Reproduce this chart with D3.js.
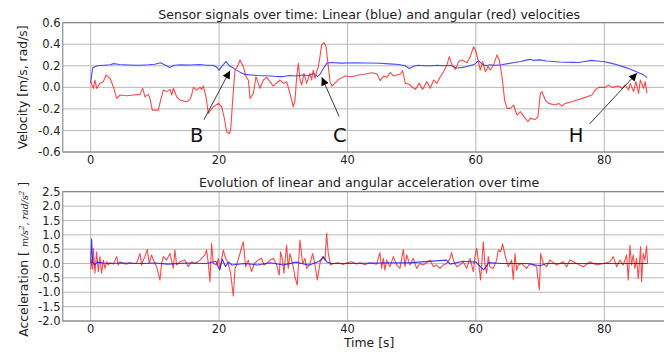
<!DOCTYPE html>
<html>
<head>
<meta charset="utf-8">
<script src="https://cdn.jsdelivr.net/npm/d3@7"></script>
<style>
  html, body { margin: 0; padding: 0; background: #fff; }
  svg { display: block; font-family: "DejaVu Sans", sans-serif; }
</style>
</head>
<body>
<svg id="chart" width="664" height="354"></svg>
<script>
// ---------------- DATA ----------------
const xTicks = [0, 20, 40, 60, 80];
const velTicks = [-0.6, -0.4, -0.2, 0.0, 0.2, 0.4, 0.6];
const accTicks = [-2.0, -1.5, -1.0, -0.5, 0.0, 0.5, 1.0, 1.5, 2.0, 2.5];

const topTitle = "Sensor signals over time: Linear (blue) and angular (red) velocities";
const bottomTitle = "Evolution of linear and angular acceleration over time";
const velLabel = "Velocity [m/s, rad/s]";
const xLabel = "Time [s]";

// linear velocity (blue)
const linVelT = [0,0.3,1,2,3,3.6,4.5,6,7.5,9,10,10.9,11.5,12.3,13,14,15.5,17,18,19,19.6,20,20.5,21.1,21.6,22.1,22.7,23.3,24,25,26,27,28,29,30,31,32,33,34,34.7,35.3,35.7,36.2,36.8,37.5,39,41,43,45,46.5,48,49,49.6,50.3,51,52,53,54,55,56,57,58,59,59.8,60.4,61,61.6,62.2,63,64,65,66,67,68,68.5,69,70,71,72,73,74,75,76,77,78,79,80,81,82,83,84,85,86,86.7];
const linVelV = [0.04,0.18,0.20,0.205,0.21,0.22,0.212,0.208,0.205,0.21,0.215,0.228,0.21,0.185,0.205,0.21,0.208,0.212,0.205,0.205,0.19,0.16,0.2,0.24,0.2,0.185,0.16,0.14,0.12,0.115,0.11,0.108,0.105,0.1,0.1,0.11,0.105,0.115,0.11,0.13,0.1,0.12,0.17,0.225,0.23,0.225,0.228,0.226,0.224,0.218,0.212,0.2,0.175,0.195,0.205,0.2,0.2,0.205,0.2,0.205,0.18,0.185,0.2,0.215,0.245,0.215,0.2,0.21,0.205,0.21,0.22,0.23,0.24,0.255,0.26,0.25,0.255,0.245,0.24,0.235,0.233,0.232,0.23,0.24,0.25,0.245,0.238,0.225,0.21,0.19,0.17,0.145,0.12,0.09];

// angular velocity (red)
const angVelT = [0,0.42,0.67,0.93,1.45,1.97,2.39,2.75,3.01,3.53,4.05,4.57,5.6,6.65,7.68,8.1,8.46,8.98,9.24,9.6,10.54,10.9,11.32,11.84,12.36,12.62,12.88,13.4,13.91,14.95,15.47,15.73,15.99,16.51,17.03,17.29,17.55,17.96,18.33,19.11,19.89,20.4,20.77,21.18,21.6,21.81,22.12,22.48,22.85,23.26,23.52,23.78,24.19,24.56,24.82,25.34,25.75,26.12,26.38,26.9,27.41,27.93,28.45,29.49,30.01,30.53,31.31,31.57,31.83,32.09,32.35,32.61,32.87,33.23,33.64,34.16,34.42,34.68,34.94,35.2,35.46,35.72,35.98,36.34,36.66,37.02,37.28,37.59,38.62,39.66,40.7,41.74,42.78,43.82,44.6,45.11,45.63,46.15,46.67,47.19,47.71,48.23,48.59,49.01,49.53,50.05,50.57,51.19,51.71,52.38,52.9,53.42,53.94,54.46,54.98,55.5,55.86,56.28,56.8,57.32,57.83,58.61,59.13,59.65,60.02,60.33,60.69,61.06,61.47,61.89,62.25,62.77,63.29,63.65,64.07,64.48,64.85,65.36,65.88,66.4,66.92,67.7,68.11,68.48,69.26,69.67,70.04,70.3,70.81,71.33,72.37,72.89,73.41,73.93,74.97,76.0,77.04,78.08,78.6,79.12,80.16,80.68,81.2,82.23,82.75,83.27,83.79,84.05,84.57,84.93,85.35,85.61,86.12,86.38,86.64];
const angVelV = [0.053,-0.01,0.068,-0.01,0.037,0.053,0.115,0.093,0.084,0.006,-0.102,-0.071,-0.078,-0.071,-0.065,-0.009,-0.087,-0.065,-0.102,-0.211,-0.211,-0.118,-0.025,-0.04,-0.019,-0.071,-0.009,-0.087,-0.118,-0.133,-0.112,-0.071,0,-0.025,0,-0.019,0.012,-0.087,-0.242,-0.18,-0.149,-0.18,-0.273,-0.412,-0.428,-0.397,-0.118,0.161,0.192,0.254,0.223,0.192,0.099,0.068,-0.102,-0.056,0.099,0.037,-0.009,0.068,0.093,0.053,0.012,0.068,0.037,0.053,-0.118,-0.18,-0.118,0.099,0.223,0.068,0.022,0.13,0.037,0.13,0.068,0.161,0.084,0.146,0.192,0.285,0.394,0.416,0.378,0.192,0.053,0.012,0.074,0.105,0.099,0.115,0.124,0.136,0.124,0.062,0.105,0.093,0.136,0.105,0.115,0.124,0.155,0.037,0.031,0.006,-0.019,0.037,-0.019,0.053,-0.009,0.068,0.037,0.099,0.146,0.208,0.285,0.208,0.167,0.239,0.254,0.229,0.285,0.378,0.332,0.254,0.161,0.239,0.146,0.192,0.161,0.208,0.301,0.254,0.099,-0.118,-0.195,-0.195,-0.164,-0.257,-0.226,-0.288,-0.319,-0.288,-0.298,-0.273,-0.056,-0.04,-0.118,-0.149,-0.164,-0.149,-0.174,-0.149,-0.133,-0.112,-0.093,-0.071,-0.025,0,0,0.022,0,0.012,-0.009,0.022,-0.025,0.037,-0.04,0.053,-0.056,0.068,-0.009,0.053,-0.056];

// linear acceleration (blue)
const linAccT = [0,0.15,0.3,0.6,1,2,3,5,8,10,12,15,18,19.5,20.1,20.5,21,21.5,22,24,26,28,30,32,34,35.6,36.3,36.8,37.5,40,45,50,55.4,56,58,60,61.2,62,64,68,70,71,80,86.7];
const linAccV = [0,0.85,0.05,-0.05,0.05,0.02,0,0.02,0,0.02,-0.02,0.02,0,0.08,-0.23,0.15,-0.1,0.05,-0.05,0,-0.05,0.03,-0.05,0.05,-0.06,0.08,0.23,0.05,0,0,0.02,0.03,0.12,-0.02,0.08,0.05,-0.22,0.03,0,0,-0.08,0,0,0];

// angular acceleration (red)
const angAccT = [0,0.15,0.31,0.41,0.67,0.93,1.19,1.45,1.71,1.97,2.23,2.49,2.74,3.0,3.53,4.04,4.3,4.56,5.08,5.6,6.12,6.64,7.16,7.42,7.68,7.94,8.2,8.46,8.82,9.13,9.5,9.76,10.27,10.79,11.05,11.31,11.83,12.35,12.87,13.13,13.39,13.91,14.69,15.2,15.72,16.24,17.02,17.8,18.06,18.32,18.58,18.84,19.1,19.62,19.88,20.14,20.66,21.02,21.44,21.8,22.22,22.48,22.74,23.26,23.77,24.14,24.55,25.07,25.49,26.11,26.63,26.99,27.41,27.93,28.45,28.97,29.38,29.59,29.9,30.11,30.52,30.78,31.04,31.56,31.82,32.18,32.6,33.02,33.38,33.64,34.16,34.57,34.94,35.3,35.71,36.13,36.49,36.75,37.01,37.38,37.8,38.58,39.35,39.87,40.65,41.43,41.95,42.7,43.5,44.54,45.06,45.32,45.58,45.84,46.1,46.62,47.14,47.66,48.18,48.7,48.96,49.22,49.74,50.25,50.77,51.29,51.81,52.85,53.37,53.89,54.41,54.93,55.45,55.97,56.23,56.49,57.0,57.52,58.04,58.56,59.08,59.6,59.86,60.12,60.38,60.74,61.16,61.42,61.68,61.93,62.19,62.71,63.23,63.49,63.86,64.17,64.53,65.05,65.57,65.83,66.09,66.35,66.61,67.13,67.91,68.43,68.94,69.46,69.88,70.09,70.5,71.02,71.54,72.58,73.62,74.14,74.66,75.7,76.73,77.77,78.81,79.85,80.89,81.41,81.92,82.44,82.96,83.48,83.74,84.0,84.25,84.51,84.77,85.03,85.29,85.66,85.81,86.07,86.33,86.59,86.75];
const angAccV = [-0.2,0.12,-0.2,0.53,-0.34,0.41,-0.28,0.24,-0.34,0.12,-0.17,0.06,-0.05,0.03,-0.02,0.24,-0.05,0.06,0,-0.02,0.03,0,0,0.18,0.35,-0.05,0.12,0.24,0.49,0,0.3,0.12,-0.11,-0.57,0,0.24,0.12,0.35,-0.17,0.47,-0.05,0.06,0.12,-0.11,0.06,0,0.12,0.3,0.47,0,-0.63,0.7,0,-0.05,0.18,-0.17,0.47,0.18,0,-0.34,-1.13,-0.17,-0.05,0.35,0.76,-0.11,0.12,-0.28,0,0.12,0.18,-0.05,0,0.12,0.18,-0.05,-0.4,0.41,0.12,-0.34,0.64,-0.17,0.35,-0.11,-0.46,-0.75,0.82,0,0.18,-0.17,0,0.35,-0.05,-0.57,0,0.24,0.12,1.05,0.35,-0.05,0,0.03,-0.03,0.03,0.06,-0.02,0.03,-0.04,0.03,-0.02,0.38,-0.17,0.18,-0.23,0.12,-0.11,0.24,-0.05,-0.17,0.49,-0.11,0.3,-0.05,0.18,-0.17,0,-0.05,0.12,-0.11,-0.05,-0.17,-0.05,0,0.18,0.38,0.12,-0.11,-0.05,0.06,-0.17,0.18,-0.28,0.24,0.53,0.12,-0.57,0.76,-0.05,-0.34,0.24,-0.11,-0.17,0.12,0.47,0.41,0.68,0.3,-0.11,0.12,-0.55,0.35,-0.23,-0.05,0,-0.17,0,-0.05,-0.11,-0.92,0.35,0,-0.11,0.12,-0.05,0.06,-0.11,0.12,0,-0.11,0.06,-0.05,0,0.06,0.24,-0.11,0.12,-0.05,0.3,-0.57,0.64,-0.05,0.3,-0.17,0.18,-0.52,0.58,-0.63,0.35,0.12,0.61,0];

// annotations (top chart, data coordinates)
const annLabels = ["B", "C", "H"];
const annTipT = [21.7, 36.0, 85.1];
const annTipV = [0.155, 0.093, 0.133];
const annFromT = [17.65, 38.7, 77.7];
const annFromV = [-0.30, -0.27, -0.34];
const annTextT = [16.5, 38.8, 75.6];
const annTextV = [-0.44, -0.44, -0.44];

// ---------------- DRAWING ----------------
const svg = d3.select("#chart");
svg.append("rect").attr("width", 664).attr("height", 354).attr("fill", "#fff");

const xDomain = [-4.34, 91.08];
const x = d3.scaleLinear().domain(xDomain).range([62.8, 675.4]);
const fmt = d => d3.format(".1f")(d).replace("\u2212", "-");

const panels = [
  { domain: [-0.6, 0.6], range: [152, 22.7], ticks: velTicks,
    title: topTitle, titleY: 18.5, series: [
      { t: linVelT, v: linVelV, color: "#2a2aff", op: 0.85 },
      { t: angVelT, v: angVelV, color: "#ff1a1a", op: 0.8 } ] },
  { domain: [-2.0, 2.5], range: [321, 191.7], ticks: accTicks,
    title: bottomTitle, titleY: 187, series: [
      { t: angAccT, v: angAccV, color: "#ff1a1a", op: 0.8 },
      { t: linAccT, v: linAccV, color: "#1a1aff", op: 0.85 } ] }
];

const defs = svg.append("defs");
defs.append("marker").attr("id", "ahead")
  .attr("viewBox", "0 0 10 10").attr("refX", 10).attr("refY", 5)
  .attr("markerWidth", 10).attr("markerHeight", 8).attr("markerUnits", "userSpaceOnUse")
  .attr("orient", "auto")
  .append("path").attr("d", "M0,0 L10,5 L0,10 Z").attr("fill", "#000");

const scales = [];
panels.forEach((p, i) => {
  const y = d3.scaleLinear().domain(p.domain).range(p.range);
  scales.push(y);
  const x0 = x.range()[0], x1 = x.range()[1];
  const yTop = p.range[1], yBot = p.range[0];
  const g = svg.append("g");

  defs.append("clipPath").attr("id", "clip" + i)
    .append("rect").attr("x", x0).attr("y", yTop).attr("width", x1 - x0).attr("height", yBot - yTop);

  // grid
  g.selectAll(".hg").data(p.ticks).enter().append("line")
    .attr("x1", x0).attr("x2", x1).attr("y1", d => y(d)).attr("y2", d => y(d))
    .attr("stroke", "#b8b8b8").attr("stroke-width", 1);
  g.selectAll(".vg").data(xTicks).enter().append("line")
    .attr("x1", d => x(d)).attr("x2", d => x(d)).attr("y1", yTop).attr("y2", yBot)
    .attr("stroke", "#b8b8b8").attr("stroke-width", 1);

  // series
  const lg = g.append("g").attr("clip-path", `url(#clip${i})`);
  p.series.forEach(s => {
    const pts = s.t.map((t, k) => [t, s.v[k]]);
    lg.append("path").datum(pts)
      .attr("d", d3.line().x(d => x(d[0])).y(d => y(d[1])))
      .attr("fill", "none").attr("stroke", s.color).attr("stroke-opacity", s.op)
      .attr("stroke-width", 1.1).attr("stroke-linejoin", "round");
  });

  // frame
  g.append("rect").attr("x", x0).attr("y", yTop).attr("width", x1 - x0).attr("height", yBot - yTop)
    .attr("fill", "none").attr("stroke", "#7a7a7a").attr("stroke-width", 1);

  // y tick labels
  g.selectAll(".yl").data(p.ticks).enter().append("text")
    .attr("x", 60.5).attr("y", d => y(d)).attr("dy", "0.36em")
    .attr("text-anchor", "end").attr("font-size", 11.5).attr("fill", "#222")
    .text(d => fmt(d));
  // x tick labels
  g.selectAll(".xl").data(xTicks).enter().append("text")
    .attr("x", d => x(d)).attr("y", yBot + 11.5)
    .attr("text-anchor", "middle").attr("font-size", 11.5).attr("fill", "#222")
    .text(d => d);

  // title
  g.append("text").attr("x", (x0 + x1) / 2).attr("y", p.titleY)
    .attr("text-anchor", "middle").attr("font-size", 12.6).attr("fill", "#222").text(p.title);
});

// y axis labels
const yTopScale = scales[0], yBotScale = scales[1];
svg.append("text")
  .attr("transform", `translate(27,${(yTopScale.range()[0] + yTopScale.range()[1]) / 2}) rotate(-90)`)
  .attr("text-anchor", "middle").attr("font-size", 12.4).attr("fill", "#222").text(velLabel);

const accLab = svg.append("text")
  .attr("transform", `translate(28,${(yBotScale.range()[0] + yBotScale.range()[1]) / 2 + 3}) rotate(-90)`)
  .attr("text-anchor", "middle").attr("font-size", 12.4).attr("fill", "#222");
accLab.append("tspan").text("Acceleration [ ");
const mathFont = "'DejaVu Serif', serif";
accLab.append("tspan").attr("font-family", mathFont).attr("font-style", "italic").attr("font-size", 9.5).text("m/s");
accLab.append("tspan").attr("font-family", mathFont).attr("font-style", "italic").attr("font-size", 7).attr("dy", -4).text("2");
accLab.append("tspan").attr("font-family", mathFont).attr("font-style", "italic").attr("font-size", 9.5).attr("dy", 4).text(", rad/s");
accLab.append("tspan").attr("font-family", mathFont).attr("font-style", "italic").attr("font-size", 7).attr("dy", -4).text("2");
accLab.append("tspan").attr("dy", 4).text(" ]");

// x label
svg.append("text").attr("x", (x.range()[0] + x.range()[1]) / 2).attr("y", 347)
  .attr("text-anchor", "middle").attr("font-size", 12.4).attr("fill", "#222").text(xLabel);

// annotations
annLabels.forEach((lab, k) => {
  svg.append("line")
    .attr("x1", x(annFromT[k])).attr("y1", yTopScale(annFromV[k]))
    .attr("x2", x(annTipT[k])).attr("y2", yTopScale(annTipV[k]))
    .attr("stroke", "#222").attr("stroke-width", 0.9).attr("marker-end", "url(#ahead)");
  svg.append("text").attr("x", x(annTextT[k])).attr("y", yTopScale(annTextV[k]))
    .attr("dy", "0.36em").attr("text-anchor", "middle").attr("font-size", 19.5).attr("fill", "#111")
    .text(lab);
});
</script>
</body>
</html>
